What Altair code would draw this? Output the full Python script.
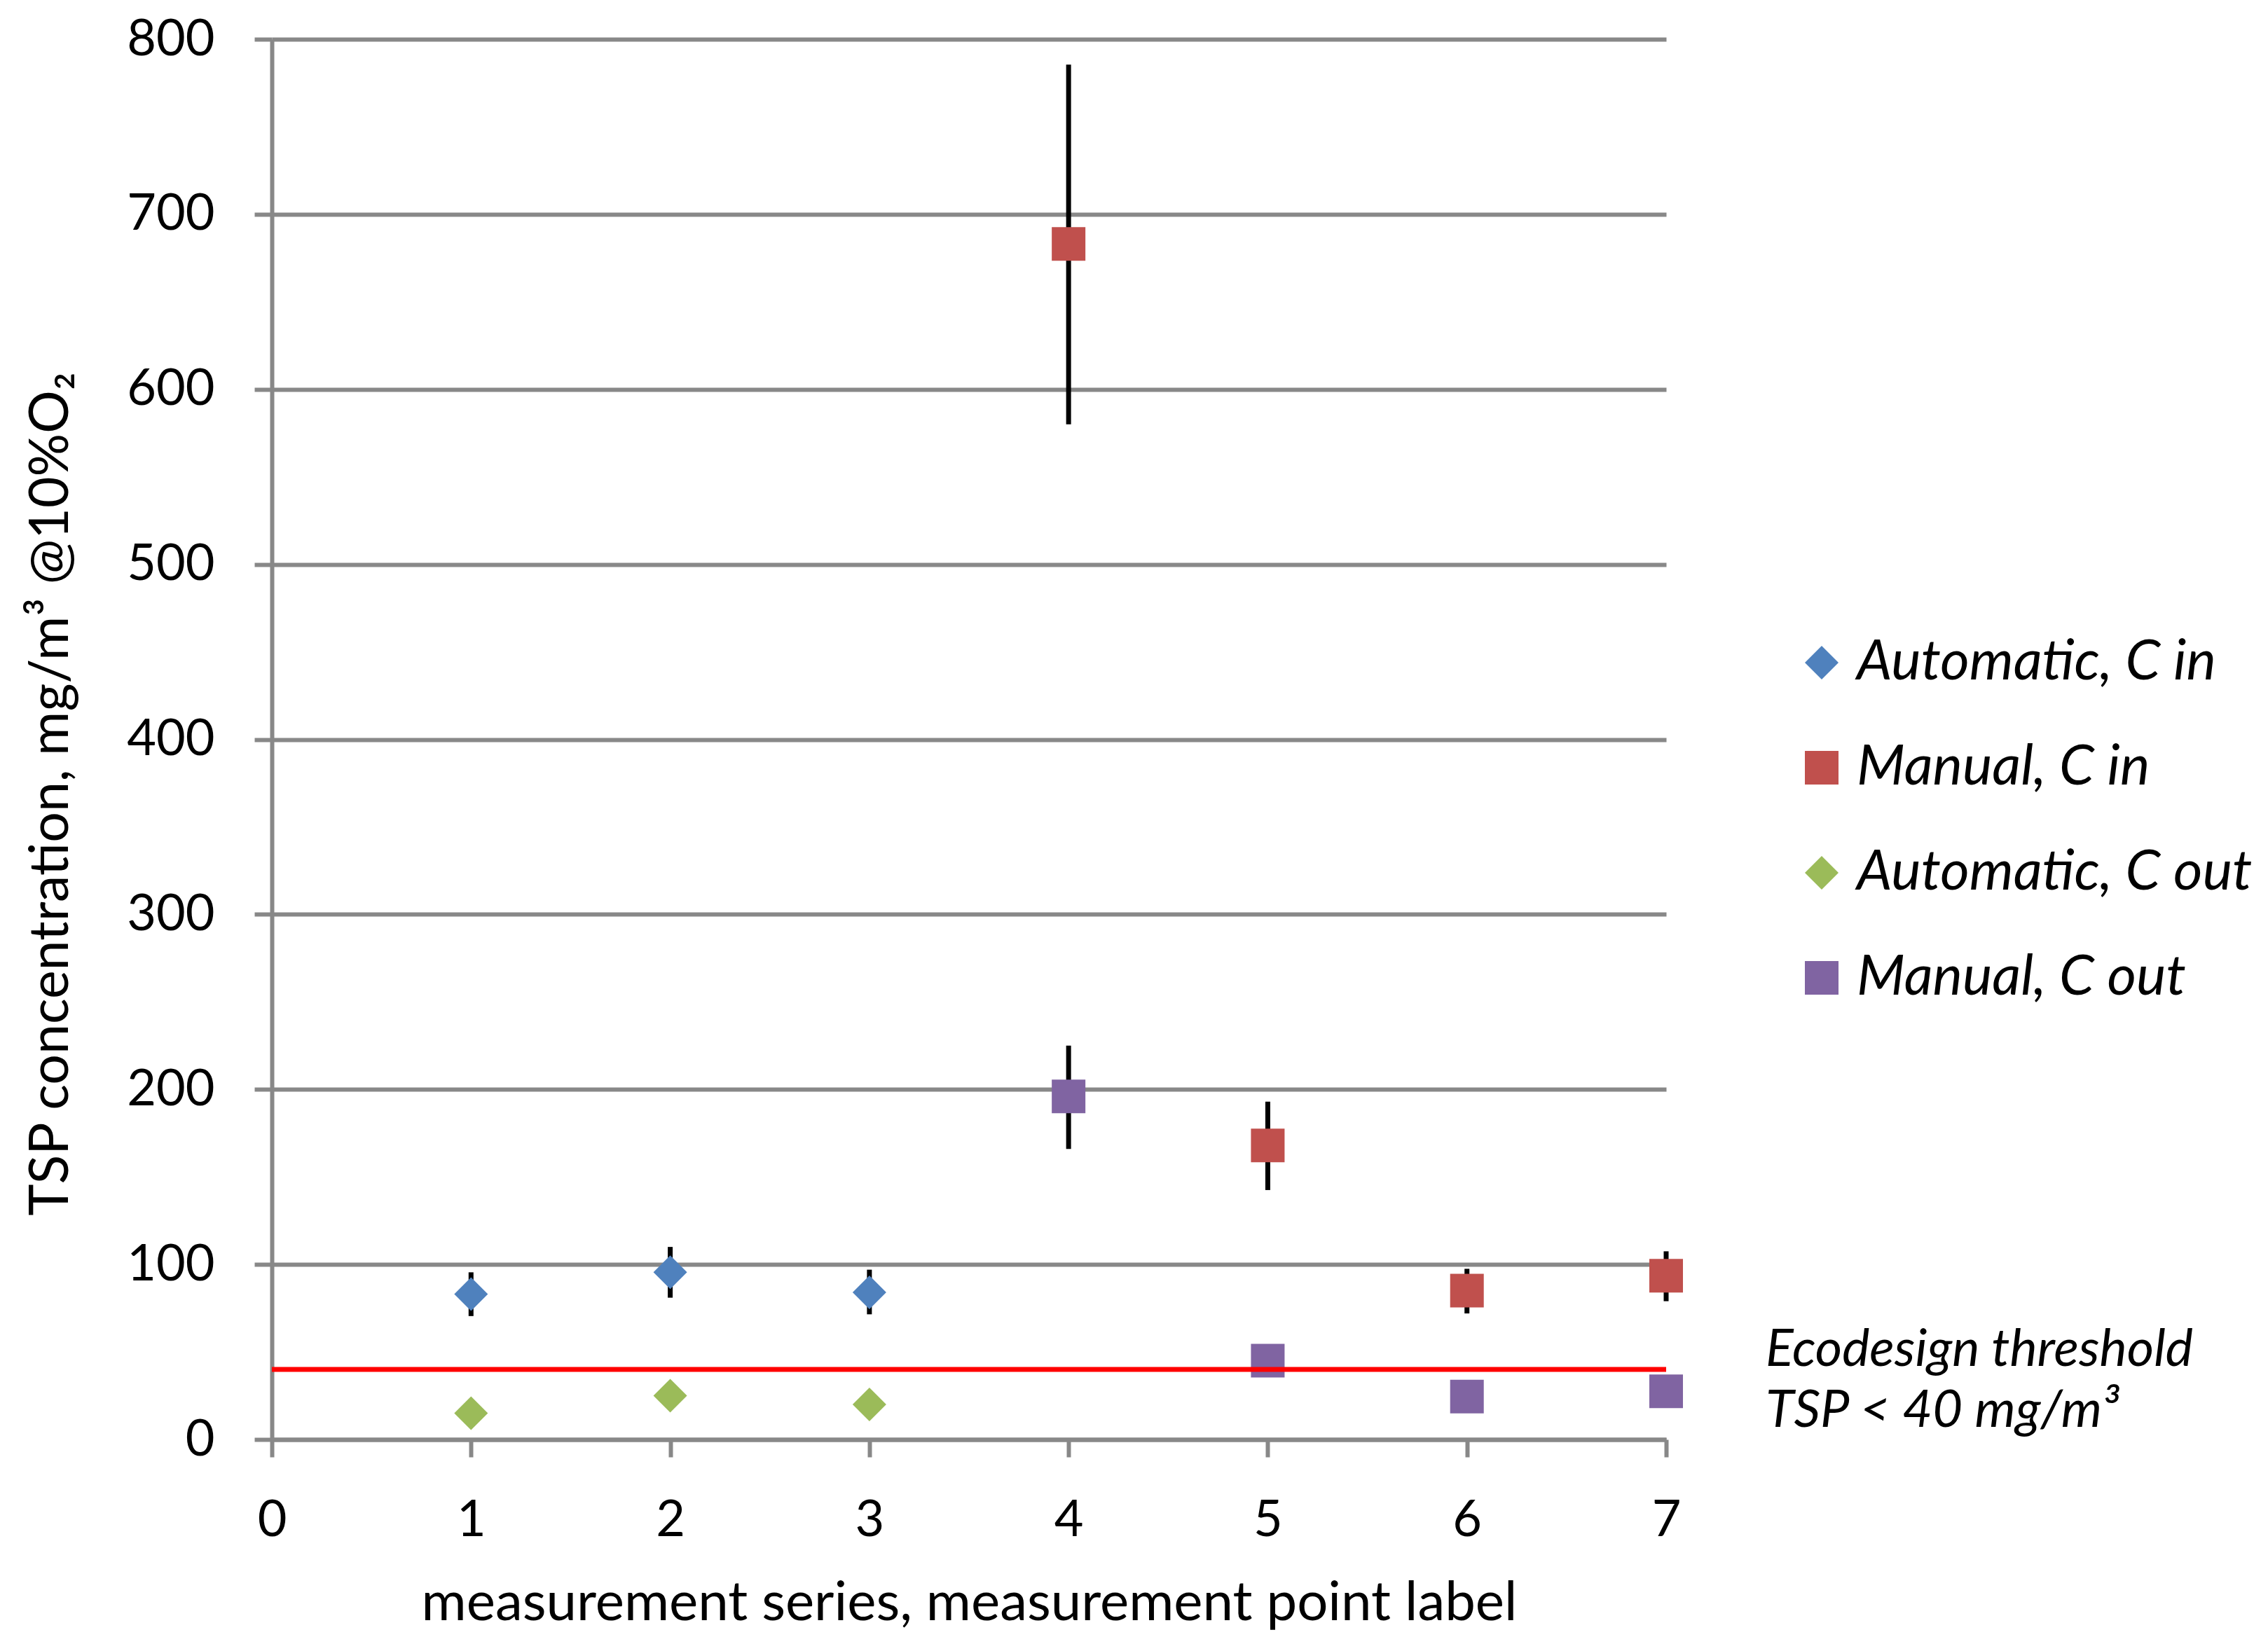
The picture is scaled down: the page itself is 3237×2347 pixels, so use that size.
import altair as alt
import pandas as pd

# ---------------- data ----------------
series_names = ["Automatic, C in", "Manual, C in", "Automatic, C out", "Manual, C out"]
series_colors = ["#4F81BD", "#C0504D", "#9BBB59", "#8064A2"]
series_shapes = ["diamond", "square", "diamond", "square"]

auto_in_x = [1, 2, 3]
auto_in_y = [83, 95.5, 84]
auto_in_lo = [70.5, 81, 71.5]
auto_in_hi = [95.5, 110, 97]

manual_in_x = [4, 5, 6, 7]
manual_in_y = [683, 168, 85, 93.5]
manual_in_lo = [580, 142.5, 72, 79]
manual_in_hi = [785.5, 193, 97.5, 107.5]

auto_out_x = [1, 2, 3]
auto_out_y = [15, 25, 20]

manual_out_x = [4, 5, 6, 7]
manual_out_y = [196, 45, 24.5, 27.5]
manual_out_err_x = [4]
manual_out_lo = [166]
manual_out_hi = [225]

threshold_value = 40
threshold_x = [0, 7]
threshold_text = ["Ecodesign threshold", "TSP < 40 mg/m\u00b3"]

x_ticks = [0, 1, 2, 3, 4, 5, 6, 7]
y_ticks = [0, 100, 200, 300, 400, 500, 600, 700, 800]

x_title = "measurement series, measurement point label"
y_title = "TSP concentration, mg/m\u00b3 @10%O\u2082"

# ---------------- tables ----------------
pts = pd.concat([
    pd.DataFrame({"series": series_names[0], "x": auto_in_x, "y": auto_in_y}),
    pd.DataFrame({"series": series_names[1], "x": manual_in_x, "y": manual_in_y}),
    pd.DataFrame({"series": series_names[2], "x": auto_out_x, "y": auto_out_y}),
    pd.DataFrame({"series": series_names[3], "x": manual_out_x, "y": manual_out_y}),
], ignore_index=True)

errs = pd.concat([
    pd.DataFrame({"x": auto_in_x, "y": auto_in_lo, "y2": auto_in_hi}),
    pd.DataFrame({"x": manual_in_x, "y": manual_in_lo, "y2": manual_in_hi}),
    pd.DataFrame({"x": manual_out_err_x, "y": manual_out_lo, "y2": manual_out_hi}),
], ignore_index=True)

thr = pd.DataFrame({"x": [threshold_x[0]], "x2": [threshold_x[1]], "y": [threshold_value]})

# ---------------- layout ----------------
PLOT_W = 1990
PLOT_H = 1999
FONT = "Lato"

xscale = alt.Scale(domain=[0, 7], nice=False, zero=False)
yscale = alt.Scale(domain=[0, 800], nice=False)

xaxis = alt.Axis(values=x_ticks, title=x_title, grid=False, labelPadding=55,
                 labelFlush=False, labelOverlap=False,
                 titleY=234, titleBaseline="middle", titleFontSize=78, format="d")
yaxis = alt.Axis(values=y_ticks, title=y_title, grid=True, labelPadding=57,
                 labelFlush=False, labelOverlap=False,
                 titleX=-315, titleY=1077, titleAlign="center", titleBaseline="middle",
                 titleAngle=-90, titleFontSize=77, format="d")

X = alt.X("x:Q", scale=xscale, axis=xaxis)
Y = alt.Y("y:Q", scale=yscale, axis=yaxis)

legend = alt.Legend(orient="none", legendX=2172, legendY=850, title=None,
                    labelFont=FONT, labelFontStyle="italic", labelFontSize=80,
                    labelColor="black", symbolSize=2304, rowPadding=70, labelOffset=10,
                    padding=0, labelLimit=1200, symbolStrokeWidth=0, symbolOpacity=1)

err_layer = alt.Chart(errs).mark_rule(color="black", strokeWidth=7).encode(
    x=X, y=Y, y2="y2:Q")

pt_layer = alt.Chart(pts).mark_point(filled=True, size=2304, opacity=1).encode(
    x=X, y=Y,
    color=alt.Color("series:N", scale=alt.Scale(domain=series_names, range=series_colors), legend=legend),
    shape=alt.Shape("series:N", scale=alt.Scale(domain=series_names, range=series_shapes), legend=legend),
)

thr_layer = alt.Chart(thr).mark_rule(color="#FF0000", strokeWidth=7).encode(
    x=X, x2="x2:Q", y=Y)

txt_layer = alt.Chart(thr).mark_text(
    text=threshold_text, font=FONT, fontStyle="italic", fontSize=74, align="left",
    baseline="alphabetic", lineHeight=87, dy=-5, color="black"
).encode(x=alt.value(PLOT_W + 142), y=Y)

chart = alt.layer(err_layer, pt_layer, thr_layer, txt_layer).properties(
    width=PLOT_W, height=PLOT_H,
    autosize=alt.AutoSizeParams(type="none"),
    padding={"left": 380, "top": 48, "right": 840, "bottom": 284},
    background="white",
).configure_view(stroke=None).configure_axis(
    labelFont=FONT, titleFont=FONT, labelFontSize=72, titleFontSize=72,
    titleFontWeight="normal", labelColor="black", titleColor="black",
    domainColor="#888888", domainWidth=6, tickColor="#888888", tickWidth=6,
    tickSize=25, gridColor="#888888", gridWidth=6,
)

chart.save("out.html", embed_options={"renderer": "svg", "actions": False})
